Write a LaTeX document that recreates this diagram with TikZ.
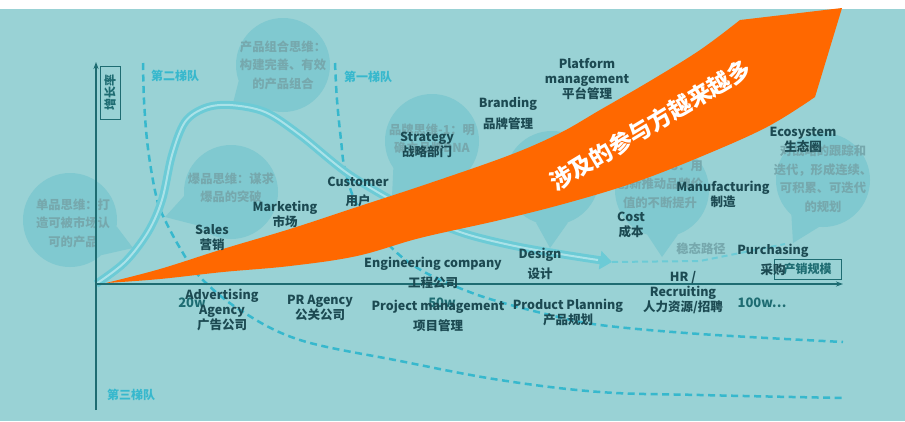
\documentclass[tikz,border=0pt]{standalone}
\usepackage{fontspec}
\setmainfont{Noto Sans CJK SC}
\usepackage{xcolor}
\usepackage{tikz}
\usetikzlibrary{arrows.meta}
\definecolor{bgteal}{RGB}{153,210,213}
\definecolor{bubblefill}{RGB}{128,201,208}
\definecolor{bubbleink}{RGB}{118,168,173}
\definecolor{darkink}{RGB}{28,74,82}
\definecolor{axisteal}{RGB}{30,108,114}
\definecolor{tiercyan}{RGB}{55,184,205}
\definecolor{curvecyan}{RGB}{108,203,214}
\definecolor{curvelight}{RGB}{170,226,232}
\definecolor{groworange}{RGB}{255,104,0}
\tikzset{
  lbl/.style={font=\bfseries\fontsize{12.5}{15}\selectfont, text=darkink, align=center, inner sep=0pt},
  tierlbl/.style={font=\bfseries\fontsize{12}{14}\selectfont, text=tiercyan, inner sep=0pt},
  ticklbl/.style={font=\bfseries\fontsize{13}{15}\selectfont, text=axisteal, inner sep=0pt},
  bubble/.style={circle, fill=bubblefill, minimum size=94pt, inner sep=0pt},
  bubbletext/.style={font=\bfseries\fontsize{12.3}{18.5}\selectfont, text=bubbleink, align=center, inner sep=0pt},
  axisline/.style={draw=axisteal, line width=1.5pt, -{Stealth[length=7pt, width=5pt]}},
  tierline/.style={draw=tiercyan, line width=2.5pt, dash pattern=on 7pt off 4.5pt},
  pathline/.style={draw=curvecyan, line width=8pt, -{Triangle[length=12pt, width=18pt]}},
  steadyline/.style={draw=curvecyan, line width=2pt, dash pattern=on 6pt off 4pt},
  boxlbl/.style={draw=axisteal, line width=1pt, text=axisteal, inner sep=0pt,
    font=\bfseries\fontsize{12}{14}\selectfont}
}

\begin{document}
\begin{tikzpicture}[x=1pt, y=-1pt]
  \useasboundingbox (0,0) rectangle (905,421);
  \fill[white] (0,0) rectangle (905,9);
  \fill[bgteal] (0,9) rectangle (905,421);

  % speech bubbles
  \node[bubble] (b1) at (70,220) {};
  \node[bubble] (b2) at (283,65) {};
  \node[bubble] (b3) at (231,192) {};
  \node[bubble] (b4) at (432,141) {};
  \node[bubble] (b5) at (552,178) {};
  \node[bubble] (b6) at (662,190) {};
  \node[bubble] (b7) at (823,180) {};
  \coordinate (t1) at (133,248);
  \coordinate (t2) at (232,107);
  \coordinate (t3) at (165,217);
  \coordinate (t4) at (392,197);
  \coordinate (t5) at (550,248);
  \coordinate (t6) at (662,257);
  \coordinate (t7) at (793,243);
  \foreach \i/\a/\c in {1/-8/-48, 2/200/245, 3/185/225, 4/215/255, 5/250/290, 6/252/290, 7/228/265}
    \fill[bubblefill] (b\i.\a) -- (t\i) -- (b\i.\c) -- cycle;
  \node[bubbletext] (b1t) at (73,223) {单品思维：打\\造可被市场认\\可的产品};
  \node[bubbletext] (b2t) at (283,65) {产品组合思维：\\构建完善、有效\\的产品组合};
  \node[bubbletext] (b3t) at (231,188) {爆品思维：谋求\\爆品的突破};
  \node[bubbletext] (b4t) at (432,139) {品牌思维-1：明\\确立品牌DNA};
  \node[bubbletext] (b6t) at (660,184) {品牌思维-3：用\\创新推动品牌价\\值的不断提升};
  \node[bubbletext] (b7t) at (823,179) {对战略的跟踪和\\迭代，形成连续、\\可积累、可迭代\\的规划};

  % tiers
  \draw[tierline] plot[smooth, tension=0.6] coordinates {(143,63) (144,100) (147,140) (152,175)
    (158,203) (165,220) (180,248) (200,277) (240,310) (300,340) (400,361) (500,380) (600,392)
    (700,395) (843,398)};
  \draw[tierline] plot[smooth, tension=0.6] coordinates {(335,63) (337,100) (341,140) (345,170)
    (357,205) (380,235) (403,258) (430,275) (467,291) (500,302) (550,315) (600,325) (700,334)
    (843,342)};
  \node[tierlbl] (tier2) at (175,76) {第二梯队};
  \node[tierlbl] (tier1) at (368,77) {第一梯队};
  \node[tierlbl] (tier3) at (131,395) {第三梯队};

  % growth path
  \coordinate (sEnd) at (612,262);
  \coordinate (steadyEnd) at (785,244);
  \draw[pathline] plot[smooth, tension=0.55] coordinates {(96,284) (125,262) (148,232) (162,200)
    (172,155) (185,122) (205,108) (230,105) (265,112) (300,135) (350,175) (410,210) (460,232)
    (510,245) (560,254) (sEnd)};
  \draw[curvelight, line width=2pt] plot[smooth, tension=0.55] coordinates {(96,284) (125,262)
    (148,232) (162,200) (172,155) (185,122) (205,108) (230,105) (265,112) (300,135) (350,175)
    (410,210) (460,232) (510,245) (560,254) (598,260)};
  \draw[steadyline] (sEnd) -- (700,261) -- (steadyEnd);
  \node[bubbletext] (steady) at (701,249) {稳态路径};

  % axes
  \coordinate (O) at (96,284);
  \coordinate (ytop) at (96,62);
  \coordinate (ybot) at (96,410);
  \coordinate (xend) at (843,284);
  \draw[axisline] (ybot) -- (ytop);
  \draw[axisline] (O) -- (xend);
  \node[boxlbl, rotate=90, minimum width=53pt, minimum height=20pt] (ylbl) at (110,92.5) {增长率};
  \node[boxlbl, minimum width=67pt, minimum height=20pt] (xlbl) at (807.5,269) {产销规模};

  % more and more parties
  \fill[groworange] plot[smooth, tension=0.6] coordinates {(106,283) (160,269) (223,249) (290,229)
    (357,207) (430,183) (510,155) (560,133) (600,110) (650,81) (700,50) (740,20)}
    -- (842,8) -- (815,97)
    -- plot[smooth, tension=0.6] coordinates {(815,97) (767,127) (700,157) (633,183) (567,203)
    (500,220) (420,238) (357,256) (290,266) (223,272) (160,279) (106,283)} -- cycle;
  \node[font=\bfseries\fontsize{23}{25}\selectfont, text=white, rotate=31, inner sep=0pt]
    (more) at (650,125) {涉及的参与方越来越多};

  \foreach \x/\t [count=\i] in {192/{20w}, 442/{50w}, 762/{100w\ldots}}
    \node[ticklbl] (tick\i) at (\x,303) {\t};

  % roles
  \node[lbl] (platform) at (587,79) {Platform\\management\\平台管理};
  \node[lbl] (branding) at (508,113.5) {Branding\\[6pt]品牌管理};
  \node[lbl] (strategy) at (427,145) {Strategy\\战略部门};
  \node[lbl] (customer) at (358,191.5) {Customer\\[4pt]用户};
  \node[lbl] (marketing) at (285,214) {Marketing\\市场};
  \node[lbl] (sales) at (212,237.5) {Sales\\营销};
  \node[lbl] (advert) at (222,309.5) {Advertising\\Agency\\广告公司};
  \node[lbl] (pr) at (320,307.5) {PR Agency\\公关公司};
  \node[lbl] (engineer) at (433,273) {Engineering company\\[5pt]工程公司};
  \node[lbl] (project) at (438,316) {Project management\\[5pt]项目管理};
  \node[lbl] (design) at (540,264) {Design\\[5pt]设计};
  \node[lbl] (planning) at (568,312) {Product Planning\\产品规划};
  \node[lbl] (hr) at (683,293) {HR /\\Recruiting\\人力资源/招聘};
  \node[lbl] (cost) at (631,225) {Cost\\成本};
  \node[lbl] (manufact) at (723,194.5) {Manufacturing\\制造};
  \node[lbl] (eco) at (803,139.5) {Ecosystem\\生态圈};
  \node[lbl] (purchase) at (773,260) {Purchasing\\[5pt]采购};
\end{tikzpicture}
\end{document}
